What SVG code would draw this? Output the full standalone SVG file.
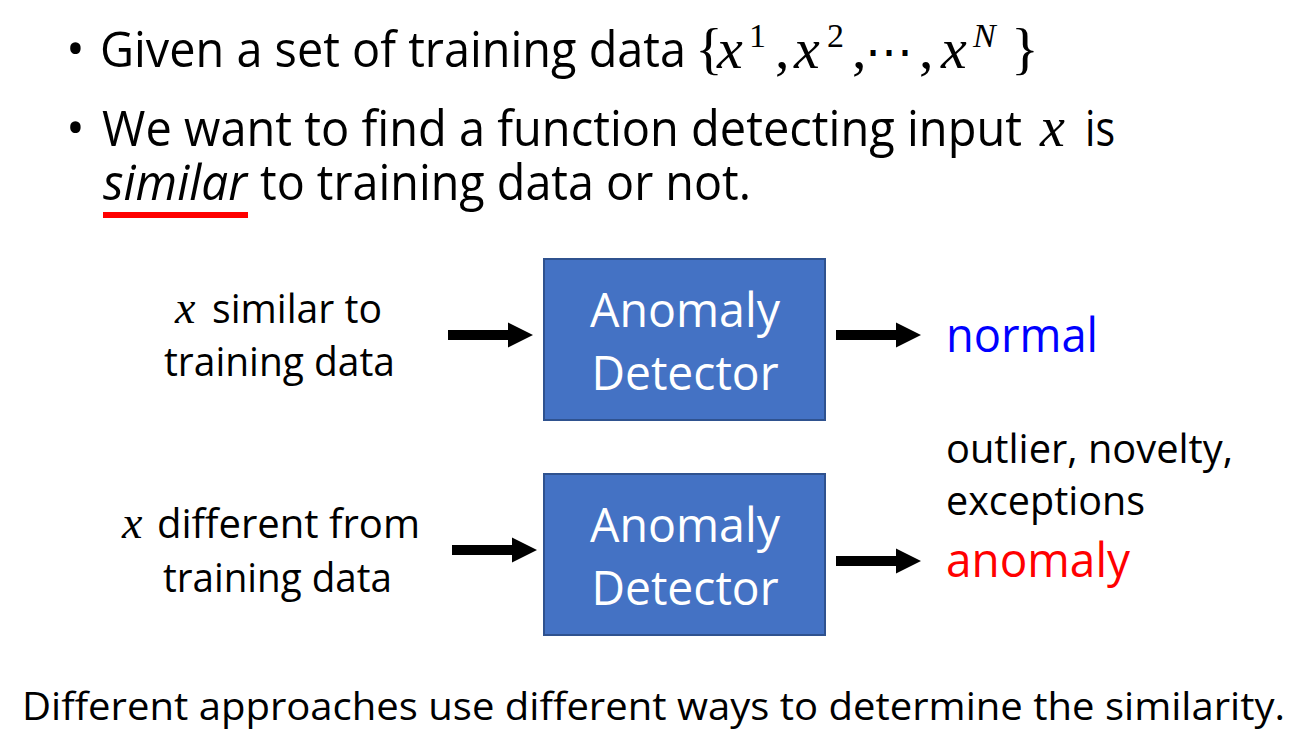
<svg xmlns="http://www.w3.org/2000/svg" width="1315" height="751" viewBox="0 0 1315 751">
  <style>
    .t { font-family: "Open Sans", "Liberation Sans", sans-serif; fill: #000; }
    .m { font-family: "Liberation Serif", "DejaVu Serif", serif; font-style: italic; fill: #000; }
    .mr { font-family: "Liberation Serif", "DejaVu Serif", serif; font-style: normal; }
    .sup { font-size: 34px; }
    .big { font-size: 50px; }
    .box { fill: #4472C4; stroke: #2F528F; stroke-width: 2; }
    .boxtext { font-family: "Open Sans", "Liberation Sans", sans-serif; font-size: 47px; fill: #FFFFFF; text-anchor: middle; }
    .lbl { font-size: 40px; }
    .arrow { fill: #000; }
  </style>
  <defs>
    <!-- block arrow, 85 long, drawn from its tail at (0,0) -->
    <path id="blockArrow" d="M0,-5 H60 V-12.5 L85,0 L60,12.5 V5 H0 Z"/>
  </defs>

  <!-- bullet text -->
  <g id="bullets">
    <text class="t big" x="66" y="66">•</text>
    <text class="t big" x="100" y="67" textLength="586" lengthAdjust="spacingAndGlyphs">Given a set of training data</text>
    <text class="m" font-size="58" y="68"><tspan class="mr" x="695">{</tspan><tspan x="717">x</tspan><tspan class="mr sup" x="749" dy="-21">1</tspan><tspan class="mr" x="775" dy="21">,</tspan><tspan x="794">x</tspan><tspan class="mr sup" x="827" dy="-21">2</tspan><tspan class="mr" x="852" dy="21">,</tspan><tspan class="mr" x="865" font-family="DejaVu Sans, sans-serif" font-size="48">⋯</tspan><tspan class="mr" x="919">,</tspan><tspan x="941">x</tspan><tspan class="sup" x="973" dy="-21">N</tspan><tspan class="mr" x="1011" dy="21">}</tspan></text>

    <text class="t big" x="66" y="145">•</text>
    <text class="t big" x="102" y="146" textLength="920" lengthAdjust="spacingAndGlyphs">We want to find a function detecting input</text>
    <text class="m" font-size="56" x="1040" y="146">x</text>
    <text class="t big" x="1085" y="146" textLength="30" lengthAdjust="spacingAndGlyphs">is</text>

    <text class="t big" x="103" y="200" font-style="italic" textLength="144" lengthAdjust="spacingAndGlyphs">similar</text>
    <text class="t big" x="260" y="200" textLength="491" lengthAdjust="spacingAndGlyphs">to training data or not.</text>
    <rect x="103" y="212" width="145" height="6" fill="#FF0000"/>
  </g>

  <!-- inputs -->
  <g id="input-similar">
    <text class="m" font-size="46" x="175" y="323">x</text>
    <text class="t lbl" x="212" y="323" textLength="170" lengthAdjust="spacingAndGlyphs">similar to</text>
    <text class="t lbl" x="164" y="376" textLength="231" lengthAdjust="spacingAndGlyphs">training data</text>
  </g>
  <g id="input-different">
    <text class="m" font-size="46" x="122" y="538">x</text>
    <text class="t lbl" x="157" y="538" textLength="263" lengthAdjust="spacingAndGlyphs">different from</text>
    <text class="t lbl" x="163" y="592" textLength="229" lengthAdjust="spacingAndGlyphs">training data</text>
  </g>

  <!-- detectors -->
  <g id="detector-1">
    <rect class="box" x="544" y="259" width="281" height="161"/>
    <text class="boxtext" x="685" y="327" textLength="190" lengthAdjust="spacingAndGlyphs">Anomaly</text>
    <text class="boxtext" x="685" y="390" textLength="187" lengthAdjust="spacingAndGlyphs">Detector</text>
  </g>
  <g id="detector-2">
    <rect class="box" x="544" y="474" width="281" height="161"/>
    <text class="boxtext" x="685" y="542" textLength="190" lengthAdjust="spacingAndGlyphs">Anomaly</text>
    <text class="boxtext" x="685" y="605" textLength="187" lengthAdjust="spacingAndGlyphs">Detector</text>
  </g>

  <!-- outputs -->
  <g id="output-normal">
    <text class="t" font-size="48" x="946" y="352" style="fill:#0000FF" textLength="152" lengthAdjust="spacingAndGlyphs">normal</text>
  </g>
  <g id="output-anomaly">
    <text class="t" font-size="40" x="946" y="463" textLength="287" lengthAdjust="spacingAndGlyphs">outlier, novelty,</text>
    <text class="t" font-size="40" x="946" y="515" textLength="199" lengthAdjust="spacingAndGlyphs">exceptions</text>
    <text class="t" font-size="48" x="946" y="577" style="fill:#FF0000" textLength="184" lengthAdjust="spacingAndGlyphs">anomaly</text>
  </g>

  <!-- connectors -->
  <g id="connectors" class="arrow">
    <use href="#blockArrow" x="448" y="335"/>
    <use href="#blockArrow" x="836" y="335"/>
    <use href="#blockArrow" x="452" y="550"/>
    <use href="#blockArrow" x="836" y="561"/>
  </g>

  <!-- footnote -->
  <g id="footnote">
    <text class="t" font-size="39" x="22" y="720" textLength="1263" lengthAdjust="spacingAndGlyphs">Different approaches use different ways to determine the similarity.</text>
  </g>
</svg>
